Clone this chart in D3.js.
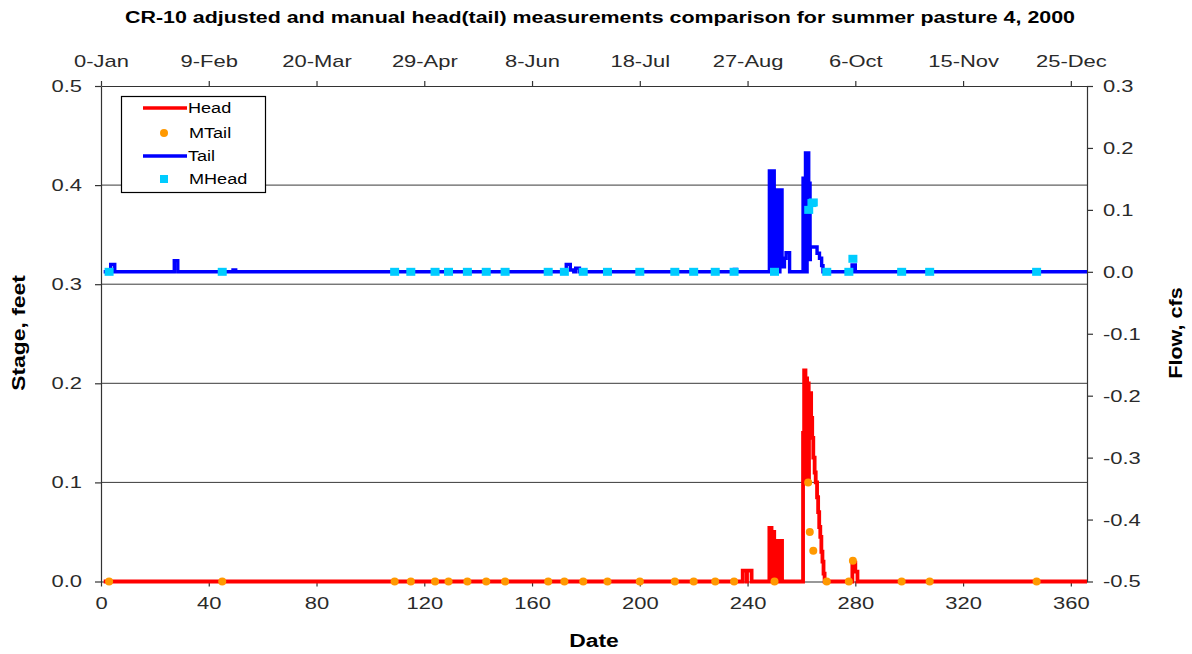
<!DOCTYPE html>
<html>
<head>
<meta charset="utf-8">
<script src="https://cdn.jsdelivr.net/npm/d3@7"></script>
<style>
  html, body { margin: 0; padding: 0; background: #fff; }
  svg { display: block; font-family: "Liberation Sans", Arial, sans-serif; }
</style>
</head>
<body>
<svg id="chart" width="1192" height="654"></svg>
<script>
// ---------------- DATA ----------------
const titleText = "CR-10 adjusted and manual head(tail) measurements comparison for summer pasture 4, 2000";
const xTicks = [0, 40, 80, 120, 160, 200, 240, 280, 320, 360];
const topTickLabels = ["0-Jan", "9-Feb", "20-Mar", "29-Apr", "8-Jun", "18-Jul", "27-Aug", "6-Oct", "15-Nov", "25-Dec"];
const stageTicks = [0, 0.1, 0.2, 0.3, 0.4, 0.5];
const flowTicks = [-0.5, -0.4, -0.3, -0.2, -0.1, 0, 0.1, 0.2, 0.3];

// Head (stage, ft) - step series: day, value
const headDays = [1, 238.2, 239.7, 239.8, 241.5, 248.1, 248.9, 249.0, 249.9, 250.0, 250.9, 251.0, 251.9, 252.0, 252.8,
  260.6, 260.9, 261.0, 261.5, 261.6, 262.1, 262.2, 262.7, 262.8, 263.6, 264.0, 264.4, 264.9, 265.3,
  265.8, 266.2, 266.6, 267.0, 267.4, 267.8, 268.2, 268.6, 278.9, 280.0, 280.8, 366];
const headStage = [0, 0.011, 0, 0.011, 0, 0.054, 0, 0.05, 0, 0.041, 0, 0.041, 0, 0.041, 0,
  0.15, 0.10, 0.213, 0.10, 0.205, 0.10, 0.20, 0.10, 0.19, 0.165, 0.145, 0.125, 0.11, 0.10,
  0.085, 0.07, 0.055, 0.045, 0.03, 0.02, 0.008, 0, 0.019, 0.01, 0, 0];

// Tail (flow, cfs) - step series: day, value
const tailDays = [1, 3.6, 5.1, 27.2, 28.5, 49.0, 50.0, 172.7, 174.2, 175.5, 176.2, 177.6, 235.1, 235.9,
  248.1, 248.9, 249.0, 249.9, 250.0, 250.9, 251.0, 251.9, 252.0, 252.8, 253.7, 254.3, 255.6,
  260.6, 261.1, 261.2, 261.5, 262.0, 262.1, 262.7, 263.2, 263.3, 265.8, 266.7, 267.5, 268.0,
  278.8, 280.0, 366];
const tailFlow = [0, 0.012, 0, 0.018, 0, 0.003, 0, 0.012, 0.003, 0, 0.006, 0, 0.004, 0,
  0.163, 0, 0.163, 0, 0.132, 0, 0.132, 0, 0.132, 0.008, 0.022, 0.031, 0,
  0.151, 0, 0.151, 0.192, 0, 0.192, 0.143, 0.02, 0.04, 0.03, 0.022, 0.01, 0,
  0.011, 0, 0];

// Manual measurements
const mTailDays = [3, 45, 109, 115, 124, 129, 136, 143, 150, 166, 172, 179, 188, 200, 213, 220, 228, 235, 250,
  262.5, 263.1, 264.4, 269.4, 277.6, 279.1, 297.2, 307.6, 347.3];
const mTailStage = [0, 0, 0, 0, 0, 0, 0, 0, 0, 0, 0, 0, 0, 0, 0, 0, 0, 0, 0,
  0.10, 0.05, 0.031, 0, 0, 0.021, 0, 0, 0];
const mHeadDays = [3, 45, 109, 115, 124, 129, 136, 143, 150, 166, 172, 179, 188, 200, 213, 220, 228, 235, 250,
  262.7, 263.9, 264.4, 269.4, 277.6, 279.1, 297.2, 307.6, 347.3];
const mHeadFlow = [0, 0, 0, 0, 0, 0, 0, 0, 0, 0, 0, 0, 0, 0, 0, 0, 0, 0, 0,
  0.10, 0.111, 0.112, 0, 0, 0.021, 0, 0, 0];

// ---------------- CHART ----------------
const svg = d3.select("#chart");
const L = 101, R = 1087, T = 86, B = 581.5;
const x = d3.scaleLinear().domain([0, 366]).range([L, R]);
const yL = d3.scaleLinear().domain([0, 0.5]).range([B, T]);
const yR = d3.scaleLinear().domain([-0.5, 0.3]).range([B, T]);
const fmt = d => d.toFixed(1);
const STRETCH = 1.29;

function stretch(sel, k) {
  sel.each(function () {
    const w = this.getComputedTextLength();
    d3.select(this).attr("textLength", w * k).attr("lengthAdjust", "spacingAndGlyphs");
  });
}

// gridlines
svg.append("g").selectAll("line").data([0.1, 0.2, 0.3, 0.4]).join("line")
  .attr("x1", L).attr("x2", R).attr("y1", d => yL(d)).attr("y2", d => yL(d))
  .attr("stroke", "#3a3a3a").attr("stroke-width", 1);

function styleAxis(g) {
  g.select(".domain").attr("stroke", "#333").attr("stroke-width", 1.2);
  g.selectAll(".tick line").attr("stroke", "#333").attr("stroke-width", 1.2);
  g.selectAll(".tick text").attr("fill", "#2a2a2a").style("font-size", "17px")
    .style("font-family", "'Liberation Sans', Arial, sans-serif");
}

const gBottom = svg.append("g").attr("transform", `translate(0,${B})`)
  .call(d3.axisBottom(x).tickValues(xTicks).tickSize(5).tickPadding(10).tickSizeOuter(0));
styleAxis(gBottom);
const gTop = svg.append("g").attr("transform", `translate(0,${T})`)
  .call(d3.axisTop(x).tickValues(xTicks).tickFormat((d, i) => topTickLabels[i]).tickSize(5).tickPadding(14).tickSizeOuter(0));
styleAxis(gTop);
const gLeft = svg.append("g").attr("transform", `translate(${L},0)`)
  .call(d3.axisLeft(yL).tickValues(stageTicks).tickFormat(fmt).tickSize(6).tickPadding(13).tickSizeOuter(0));
styleAxis(gLeft);
const gRight = svg.append("g").attr("transform", `translate(${R},0)`)
  .call(d3.axisRight(yR).tickValues(flowTicks).tickFormat(fmt).tickSize(6).tickPadding(10).tickSizeOuter(0));
styleAxis(gRight);
[gBottom, gTop, gLeft, gRight].forEach(g => stretch(g.selectAll(".tick text"), STRETCH));

// series
const headData = headDays.map((d, i) => [d, headStage[i]]);
const tailData = tailDays.map((d, i) => [d, tailFlow[i]]);
const headLine = d3.line().x(d => x(d[0])).y(d => yL(d[1])).curve(d3.curveStepAfter);
const tailLine = d3.line().x(d => x(d[0])).y(d => yR(d[1])).curve(d3.curveStepAfter);

svg.append("path").datum(headData).attr("d", headLine)
  .attr("fill", "none").attr("stroke", "#ff0000").attr("stroke-width", 3.8).attr("stroke-linejoin", "miter");
svg.append("g").selectAll("circle").data(mTailDays).join("circle")
  .attr("cx", d => x(d)).attr("cy", (d, i) => yL(mTailStage[i])).attr("r", 4)
  .attr("fill", "#ff9900");
svg.append("path").datum(tailData).attr("d", tailLine)
  .attr("fill", "none").attr("stroke", "#0000ff").attr("stroke-width", 3.4).attr("stroke-linejoin", "miter");
svg.append("g").selectAll("rect").data(mHeadDays).join("rect")
  .attr("x", d => x(d) - 4.5).attr("y", (d, i) => yR(mHeadFlow[i]) - 4).attr("width", 9).attr("height", 8)
  .attr("fill", "#00ccff");

// title
svg.append("text").attr("x", 600).attr("y", 23).attr("text-anchor", "middle")
  .style("font-size", "16px").style("font-weight", "bold").attr("fill", "#000")
  .attr("textLength", 950).attr("lengthAdjust", "spacingAndGlyphs").text(titleText);

// axis titles
const xt = svg.append("text").attr("x", 594).attr("y", 647).attr("text-anchor", "middle")
  .style("font-size", "18px").style("font-weight", "bold").text("Date");
const ylt = svg.append("text").attr("transform", "translate(25,333) rotate(-90)").attr("text-anchor", "middle")
  .style("font-size", "18px").style("font-weight", "bold").text("Stage, feet");
const yrt = svg.append("text").attr("transform", "translate(1182,333) rotate(-90)").attr("text-anchor", "middle")
  .style("font-size", "18px").style("font-weight", "bold").text("Flow, cfs");
stretch(xt, 1.27); stretch(ylt, 1.27); stretch(yrt, 1.2);

// legend
const lg = svg.append("g");
lg.append("rect").attr("x", 121.5).attr("y", 96.5).attr("width", 144).attr("height", 96)
  .attr("fill", "#fff").attr("stroke", "#000").attr("stroke-width", 1.2);
const legendItems = [
  { label: "Head", type: "line", color: "#ff0000", y: 108 },
  { label: "MTail", type: "circle", color: "#ff9900", y: 133 },
  { label: "Tail", type: "line", color: "#0000ff", y: 156 },
  { label: "MHead", type: "square", color: "#00ccff", y: 179 }
];
legendItems.forEach(it => {
  if (it.type === "line") {
    lg.append("line").attr("x1", 143).attr("x2", 187).attr("y1", it.y).attr("y2", it.y)
      .attr("stroke", it.color).attr("stroke-width", 3.5);
  } else if (it.type === "circle") {
    lg.append("circle").attr("cx", 164).attr("cy", it.y).attr("r", 4).attr("fill", it.color);
  } else {
    lg.append("rect").attr("x", 160).attr("y", it.y - 4).attr("width", 8).attr("height", 8).attr("fill", it.color);
  }
  const t = lg.append("text").attr("x", it.type === "line" ? 188 : 189).attr("y", it.y + 5)
    .style("font-size", "14px").attr("fill", "#000").text(it.label);
  stretch(t, STRETCH);
});
</script>
</body>
</html>
